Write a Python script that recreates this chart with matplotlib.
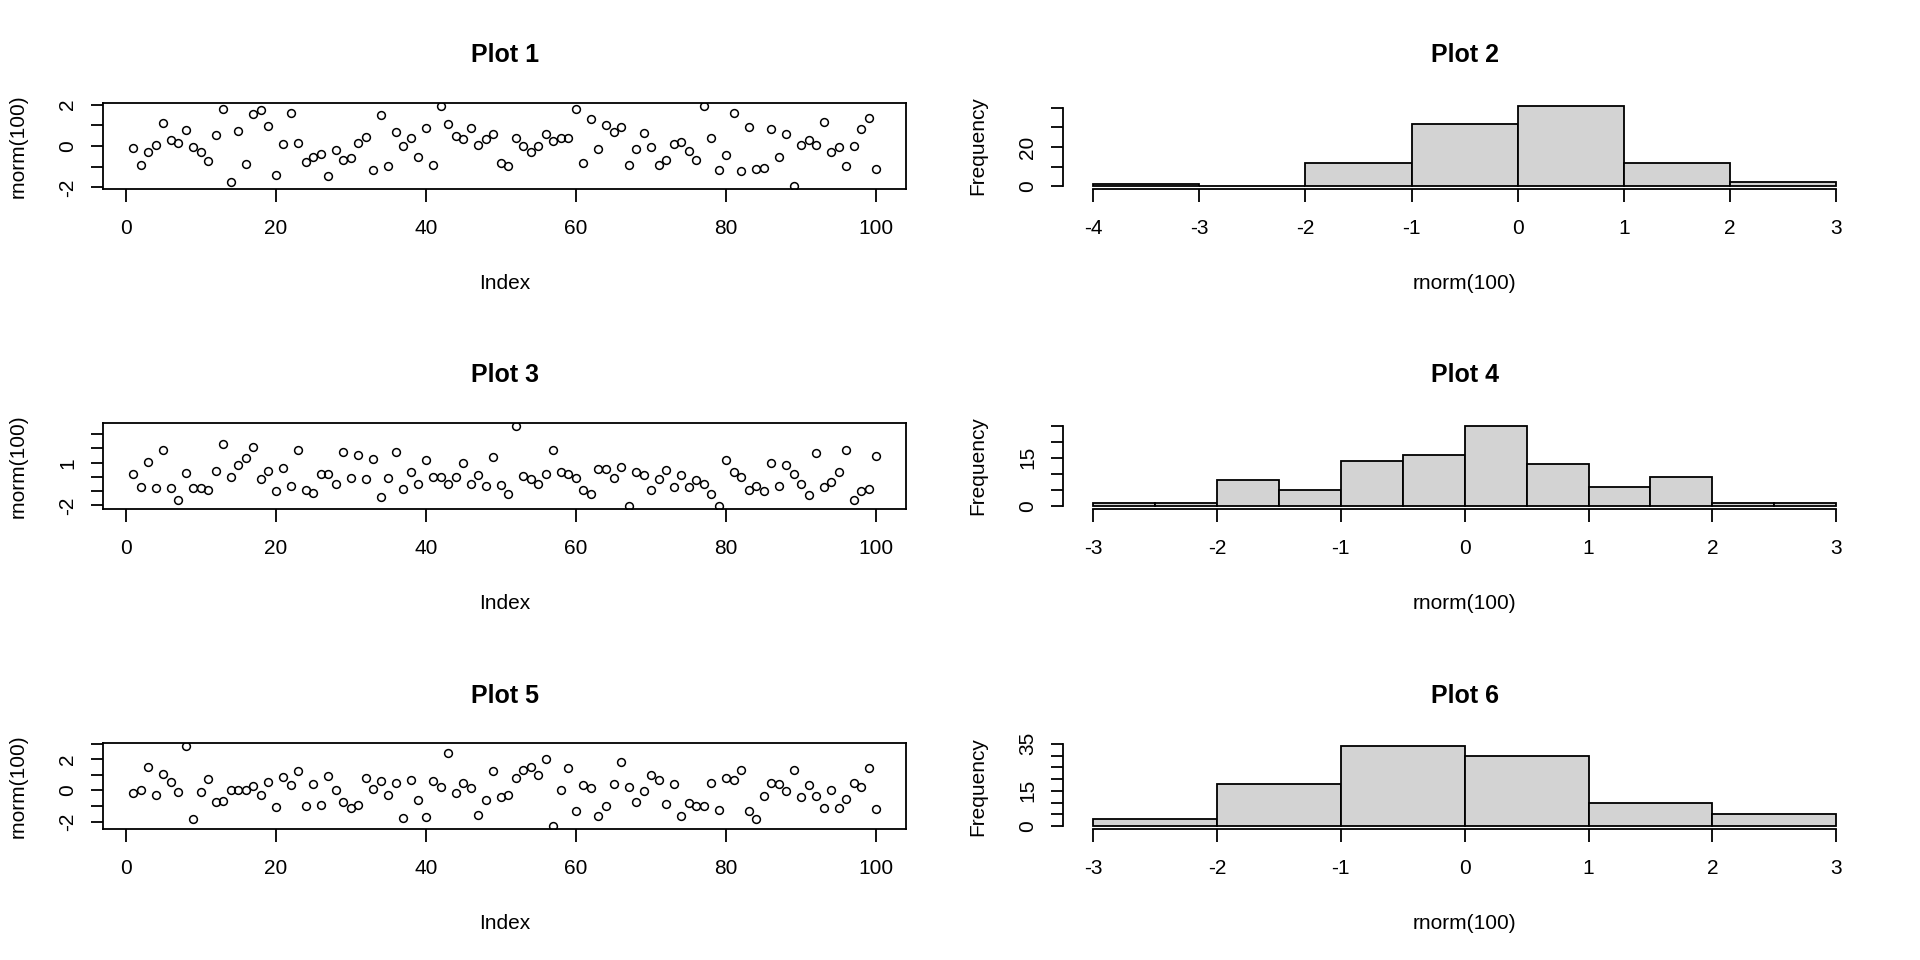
import matplotlib
matplotlib.use('Agg')
import matplotlib.pyplot as plt

plt.rcParams['font.family'] = ['Liberation Sans', 'DejaVu Sans']
plt.rcParams['axes.unicode_minus'] = False

# Scatter data (index 1..100)
plot1_y = [-0.10, -0.92, -0.29, 0.06, 1.11, 0.29, 0.15, 0.77, -0.05, -0.29,
           -0.71, 0.55, 1.79, -1.74, 0.73, -0.85, 1.55, 1.74, 0.97, -1.40,
           0.11, 1.60, 0.15, -0.76, -0.53, -0.39, -1.45, -0.19, -0.68, -0.58,
           0.16, 0.44, -1.16, 1.50, -0.97, 0.68, 0.00, 0.39, -0.53, 0.87,
           -0.92, 1.94, 1.06, 0.48, 0.34, 0.87, 0.05, 0.34, 0.58, -0.81,
           -0.97, 0.39, 0.00, -0.29, 0.00, 0.58, 0.23, 0.39, 0.39, 1.79,
           -0.81, 1.32, -0.16, 1.03, 0.66, 0.94, -0.92, -0.16, 0.65, -0.05,
           -0.92, -0.69, 0.11, 0.21, -0.26, -0.68, 1.94, 0.39, -1.16, -0.44,
           1.60, -1.21, 0.92, -1.11, -1.06, 0.82, -0.53, 0.58, -1.94, 0.05,
           0.31, 0.06, 1.16, -0.29, -0.03, -0.97, 0.00, 0.82, 1.35, -1.11]

plot3_y = [0.24, -0.69, 1.02, -0.81, 1.90, -0.81, -1.62, 0.31, -0.81, -0.76,
           -0.90, 0.45, 2.33, 0.02, 0.81, 1.33, 2.10, -0.17, 0.45, -0.98,
           0.62, -0.67, 1.90, -0.90, -1.12, 0.24, 0.24, -0.52, 1.74, -0.10,
           1.55, -0.17, 1.24, -1.40, -0.10, 1.74, -0.83, 0.38, -0.48, 1.19,
           0.02, 0.02, -0.48, 0.02, 0.95, -0.48, 0.17, -0.62, 1.38, -0.55,
           -1.19, 3.60, 0.05, -0.17, -0.48, 0.24, 1.90, 0.38, 0.24, -0.10,
           -0.90, -1.19, 0.55, 0.55, -0.10, 0.69, -2.05, 0.38, 0.17, -0.90,
           -0.17, 0.52, -0.69, 0.17, -0.69, -0.21, -0.48, -1.19, -2.05, 1.19,
           0.38, 0.02, -0.90, -0.64, -0.98, 0.95, -0.62, 0.83, 0.19, -0.48,
           -1.26, 1.67, -0.69, -0.33, 0.33, 1.90, -1.62, -0.98, -0.83, 1.48]

plot5_y = [-0.19, 0.06, 1.49, -0.30, 1.04, 0.53, -0.11, 2.83, -1.83, -0.11,
           0.72, -0.74, -0.68, 0.06, 0.02, 0.02, 0.28, -0.30, 0.53, -1.06,
           0.85, 0.34, 1.23, -1.00, 0.40, -0.94, 0.91, 0.02, -0.74, -1.13,
           -0.94, 0.79, 0.09, 0.60, -0.30, 0.49, -1.77, 0.66, -0.62, -1.70,
           0.60, 0.21, 2.38, -0.17, 0.47, 0.15, -1.57, -0.62, 1.23, -0.43,
           -0.30, 0.79, 1.30, 1.51, 1.00, 2.00, -2.28, 0.02, 1.43, -1.32,
           0.34, 0.15, -1.64, -1.00, 0.40, 1.81, 0.21, -0.74, -0.04, 1.00,
           0.68, -0.87, 0.40, -1.64, -0.79, -0.98, -1.00, 0.47, -1.26, 0.79,
           0.68, 1.30, -1.32, -1.83, -0.36, 0.47, 0.43, -0.04, 1.30, -0.43,
           0.34, -0.36, -1.13, 0.02, -1.13, -0.55, 0.47, 0.21, 1.43, -1.19]

# Histogram data: bin edges and counts
plot2_edges = [-4, -3, -2, -1, 0, 1, 2, 3]
plot2_counts = [1, 0, 12, 32, 41, 12, 2]
plot4_edges = [-3, -2.5, -2, -1.5, -1, -0.5, 0, 0.5, 1, 1.5, 2, 2.5, 3]
plot4_counts = [1, 1, 8, 5, 14, 16, 25, 13, 6, 9, 1, 1]
plot6_edges = [-3, -2, -1, 0, 1, 2, 3]
plot6_counts = [3, 18, 34, 30, 10, 5]

# Axis ticks and the labels R kept
scatter_xticks = [0, 20, 40, 60, 80, 100]
plot1_yticks = [-2, -1, 0, 1, 2]
plot1_ylabels = ['-2', '', '0', '', '2']
plot3_yticks = [-2, -1, 0, 1, 2, 3]
plot3_ylabels = ['-2', '', '', '1', '', '']
plot5_yticks = [-2, -1, 0, 1, 2, 3]
plot5_ylabels = ['-2', '', '0', '', '2', '']
plot2_xticks = [-4, -3, -2, -1, 0, 1, 2, 3]
plot2_yticks = [0, 10, 20, 30, 40]
plot2_ylabels = ['0', '', '20', '', '']
plot4_xticks = [-3, -2, -1, 0, 1, 2, 3]
plot4_yticks = [0, 5, 10, 15, 20, 25]
plot4_ylabels = ['0', '', '', '15', '', '']
plot6_xticks = [-3, -2, -1, 0, 1, 2, 3]
plot6_yticks = [0, 5, 10, 15, 20, 25, 30, 35]
plot6_ylabels = ['0', '', '', '15', '', '', '', '35']

W, H = 1920, 960
LW = 1.3


def place(fig, left, right, top, bottom):
    return fig.add_axes([left / W, 1 - bottom / H, (right - left) / W, (bottom - top) / H])


def style_ticks(ax):
    ax.tick_params(direction='out', length=9, width=LW, labelsize=15)
    ax.tick_params(axis='x', pad=12.5)
    ax.tick_params(axis='y', pad=10, labelrotation=90)
    for lab in ax.get_yticklabels():
        lab.set_va('center')


def scatter_panel(ax, ys, yticks, ylabels, title):
    xs = list(range(1, len(ys) + 1))
    ax.plot(xs, ys, linestyle='none', marker='o', markersize=5.6,
            markerfacecolor='none', markeredgecolor='black', markeredgewidth=1.1)
    lo, hi = min(ys), max(ys)
    pad = 0.04 * (hi - lo)
    ax.set_ylim(lo - pad, hi + pad)
    ax.set_xlim(1 - 0.04 * 99, 100 + 0.04 * 99)
    ax.set_xticks(scatter_xticks)
    ax.set_yticks(yticks, ylabels)
    for s in ax.spines.values():
        s.set_linewidth(LW)
    style_ticks(ax)
    ax.set_xlabel('Index', fontsize=15, labelpad=26)
    ax.set_ylabel('rnorm(100)', fontsize=15, labelpad=22)
    ax.set_title(title, fontsize=18, fontweight='bold', pad=29)


def hist_panel(ax, edges, counts, xticks, yticks, ylabels, title):
    widths = [edges[i + 1] - edges[i] for i in range(len(counts))]
    ax.bar(edges[:-1], counts, width=widths, align='edge', color='#D3D3D3',
           edgecolor='black', linewidth=LW)
    m = max(counts)
    ax.set_ylim(-0.04 * m, 1.04 * m)
    span = edges[-1] - edges[0]
    ax.set_xlim(edges[0] - 0.04 * span, edges[-1] + 0.04 * span)
    ax.set_xticks(xticks)
    ax.set_yticks(yticks, ylabels)
    ax.spines['top'].set_visible(False)
    ax.spines['right'].set_visible(False)
    ax.spines['left'].set_bounds(yticks[0], yticks[-1])
    ax.spines['bottom'].set_bounds(xticks[0], xticks[-1])
    ax.spines['left'].set_linewidth(LW)
    ax.spines['bottom'].set_linewidth(LW)
    style_ticks(ax)
    ax.set_xlabel('rnorm(100)', fontsize=15, labelpad=26)
    ax.set_ylabel('Frequency', fontsize=15, labelpad=22)
    ax.set_title(title, fontsize=18, fontweight='bold', pad=29)


fig = plt.figure(figsize=(19.2, 9.6), dpi=100)

rows = [(102.7, 189.3), (422.5, 509.3), (743.0, 829.3)]
left_col = (103.3, 906.0)
right_col = (1063.3, 1866.0)

scatter_sets = [(plot1_y, plot1_yticks, plot1_ylabels, 'Plot 1'),
                (plot3_y, plot3_yticks, plot3_ylabels, 'Plot 3'),
                (plot5_y, plot5_yticks, plot5_ylabels, 'Plot 5')]
hist_sets = [(plot2_edges, plot2_counts, plot2_xticks, plot2_yticks, plot2_ylabels, 'Plot 2'),
             (plot4_edges, plot4_counts, plot4_xticks, plot4_yticks, plot4_ylabels, 'Plot 4'),
             (plot6_edges, plot6_counts, plot6_xticks, plot6_yticks, plot6_ylabels, 'Plot 6')]

for (top, bottom), sc, hs in zip(rows, scatter_sets, hist_sets):
    ax = place(fig, left_col[0], left_col[1], top, bottom)
    scatter_panel(ax, *sc)
    ax = place(fig, right_col[0], right_col[1], top, bottom)
    hist_panel(ax, *hs)

fig.savefig('out.png', dpi=100, facecolor='white')
